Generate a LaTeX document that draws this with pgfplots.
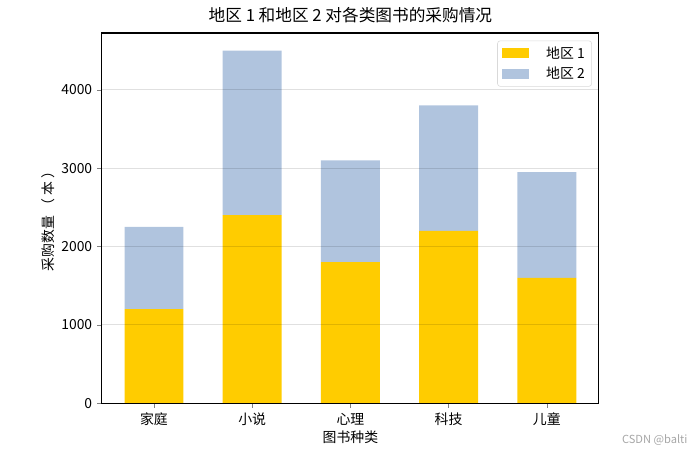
\documentclass[border=0pt]{standalone}
\usepackage{pgfplots}
\pgfplotsset{compat=1.18}
\usepackage{fontspec}
\setmainfont{Noto Sans CJK SC}
\definecolor{regA}{HTML}{FFCC00}
\definecolor{regB}{HTML}{B0C4DE}
\begin{document}
\begin{tikzpicture}
\begin{axis}[
  scale only axis,
  width=357.8pt, height=266.4pt,
  ybar stacked,
  bar width=0.6,
  xmin=-0.53, xmax=4.53,
  ymin=0, ymax=4725,
  xtick={0,1,2,3,4},
  xticklabels={家庭,小说,心理,科技,儿童},
  ytick={0,1000,2000,3000,4000},
  scaled y ticks=false,
  /pgf/number format/assume math mode=true,
  yticklabel={\pgfmathprintnumber[fixed,1000 sep={}]{\tick}},
  tick label style={font=\fontsize{10}{12}\selectfont},
  tick pos=left,
  tick align=outside,
  major tick length=3.5pt,
  ymajorgrids=true,
  major grid style={black, opacity=0.12, line width=0.6pt},
  axis on top,
  axis line style={line width=0.8pt},
  title={地区 1 和地区 2 对各类图书的采购情况},
  title style={font=\fontsize{12}{14}\selectfont, yshift=-2pt},
  xlabel={图书种类},
  ylabel={采购数量 （ 本 ）},
  label style={font=\fontsize{10}{12}\selectfont},
  xlabel style={yshift=3pt},
  ylabel style={yshift=-2pt},
  legend style={at={(1,1)}, anchor=north east, xshift=-5pt, yshift=-5.4pt,
    draw=black!15, rounded corners=2pt, font=\fontsize{10}{12}\selectfont,
    row sep=1pt, inner xsep=3pt, inner ysep=2pt},
  legend cell align=left,
  legend image code/.code={\fill[#1, draw=none, sharp corners] (0pt,-3.6pt) rectangle (20pt,3.6pt);},
  legend style={/tikz/every odd column/.append style={column sep=0pt}},
]
\addplot[fill=regA, draw=none] coordinates {(0,1200) (1,2400) (2,1800) (3,2200) (4,1600)};
\addlegendentry{\hspace{10pt}地区 1}
\addplot[fill=regB, draw=none] coordinates {(0,1050) (1,2100) (2,1300) (3,1600) (4,1350)};
\addlegendentry{\hspace{10pt}地区 2}
\end{axis}
\node[text=black!35, font=\fontsize{8}{10}\selectfont] at (398pt,-26.6pt) {CSDN @balti};
\pgfresetboundingbox
\path (-73.4pt,-36.7pt) rectangle (427pt,290.2pt);
\end{tikzpicture}
\end{document}
